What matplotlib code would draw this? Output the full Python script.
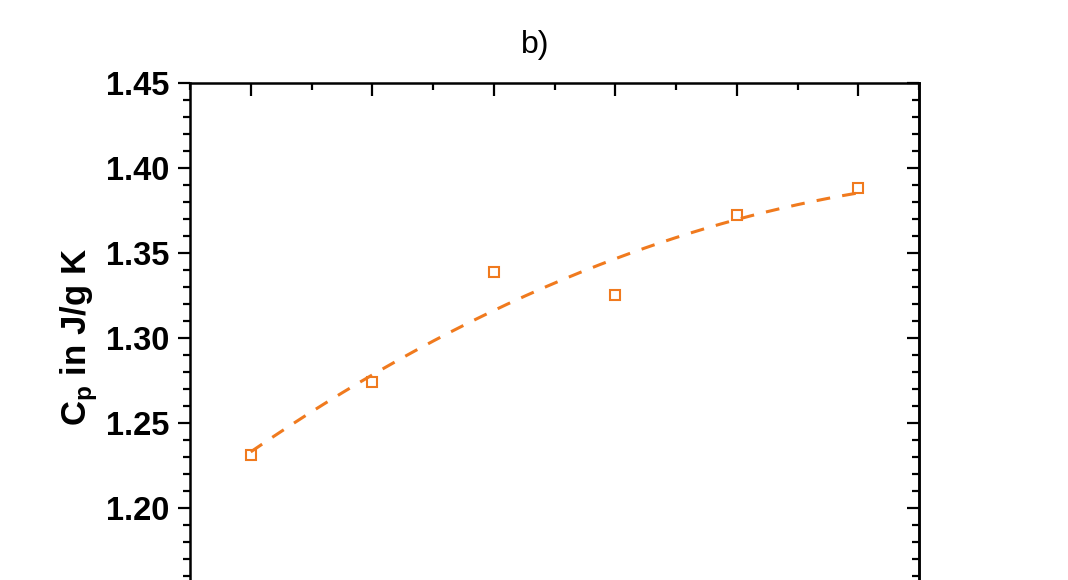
import numpy as np
import matplotlib

matplotlib.use("Agg")
import matplotlib.pyplot as plt
from matplotlib.ticker import MultipleLocator, FormatStrFormatter

# sample index on x (tick labels are cut off in the reference)
SAMPLE_X = [1, 2, 3, 4, 5, 6]
CP_VALUES = [1.231, 1.274, 1.339, 1.325, 1.372, 1.388]

ORANGE = "#F07A1E"
FS_TICK = 23.5
FS_LABEL = 25
FS_TITLE = 23

plt.rcParams["font.family"] = ["Liberation Sans", "DejaVu Sans"]

fig = plt.figure(figsize=(10.68, 5.80), dpi=100)
ax = fig.add_axes([0.1779, -0.1697, 0.6826, 1.0271])

x = np.array(SAMPLE_X, dtype=float)
y = np.array(CP_VALUES)

# quadratic fit through the measured points
coef = np.polyfit(x, y, 2)
xf = np.linspace(x.min(), x.max(), 200)
ax.plot(xf, np.polyval(coef, xf), color=ORANGE, linewidth=2.2,
        linestyle=(0, (4.5, 4.0)), zorder=2)
ax.plot(x, y, linestyle="none", marker="s", markersize=7.8,
        markerfacecolor="none", markeredgecolor=ORANGE, markeredgewidth=1.5, zorder=3)

ax.set_xlim(0.5, 6.5)
ax.set_ylim(1.10, 1.45)
ax.xaxis.set_major_locator(MultipleLocator(1))
ax.xaxis.set_minor_locator(MultipleLocator(0.5))
ax.yaxis.set_major_locator(MultipleLocator(0.05))
ax.yaxis.set_minor_locator(MultipleLocator(0.01))
ax.yaxis.set_major_formatter(FormatStrFormatter("%.2f"))

for side in ax.spines.values():
    side.set_linewidth(1.8)

ax.tick_params(axis="y", which="both", left=True, right=False, direction="out",
               labelsize=FS_TICK, width=1.6, pad=6)
ax.tick_params(axis="y", which="major", length=9)
ax.tick_params(axis="y", which="minor", length=5)
ax.tick_params(axis="x", which="both", bottom=True, top=True, direction="in",
               labelbottom=False, width=1.6)
ax.tick_params(axis="x", which="major", length=9)
ax.tick_params(axis="x", which="minor", length=5)
for lab in ax.get_yticklabels():
    lab.set_fontweight("bold")

# mirrored ticks on the right side, pointing inward
ax_r = ax.secondary_yaxis("right")
ax_r.yaxis.set_major_locator(MultipleLocator(0.05))
ax_r.yaxis.set_minor_locator(MultipleLocator(0.01))
ax_r.tick_params(axis="y", which="both", direction="in", width=1.6, labelright=False)
ax_r.tick_params(axis="y", which="major", length=9)
ax_r.tick_params(axis="y", which="minor", length=5)
ax_r.spines["right"].set_linewidth(1.8)

ax.set_ylabel(r"C$_\mathregular{p}$ in J/g K", fontsize=FS_LABEL, fontweight="bold")
ax.yaxis.set_label_coords(-0.124, 0.573)

fig.text(535 / 1068, 1 - 45 / 580, "b)", fontsize=FS_TITLE, ha="center", va="center")

fig.savefig("out.png", dpi=100)
